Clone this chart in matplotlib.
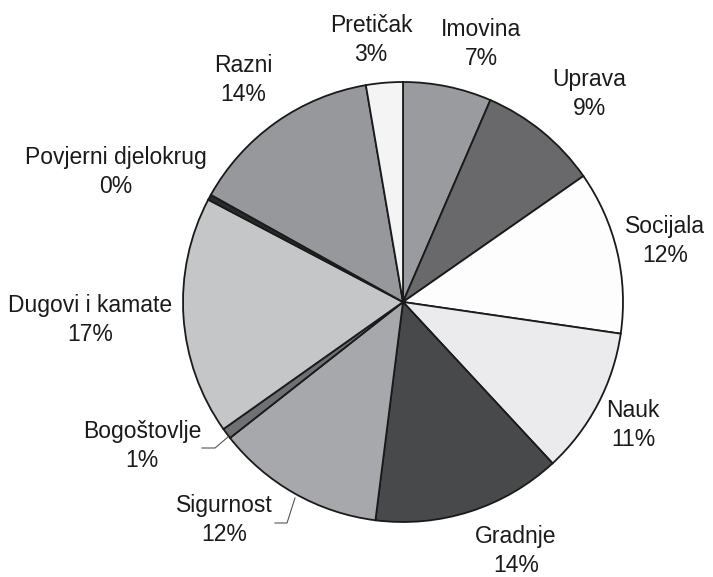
import matplotlib.pyplot as plt

# Data (shares in percent, clockwise from 12 o'clock)
labels = ["Imovina", "Uprava", "Socijala", "Nauk", "Gradnje", "Sigurnost",
          "Bogoštovlje", "Dugovi i kamate", "Povjerni djelokrug", "Razni", "Pretičak"]
shares = [6.5, 8.8, 12.0, 10.8, 13.9, 12.4, 0.8, 17.5, 0.4, 14.2, 2.7]
shown = [7, 9, 12, 11, 14, 12, 1, 17, 0, 14, 3]

colors = ["#9a9b9f", "#69696c", "#fdfdfd", "#ebebed", "#48494b", "#a7a8ab",
          "#6f7073", "#c5c6c8", "#2a2a2a", "#97989c", "#f4f4f4"]

# label block centres in pixels
label_pos = [(481, 44), (589, 94), (665, 241), (633, 425), (516, 551), (224, 520),
             (142, 446), (90, 320), (116, 172), (243, 80), (371, 40)]

W, H = 713, 577
cx, cy, R = 403, 302, 220

plt.rcParams['font.family'] = ['Liberation Sans', 'DejaVu Sans']

fig = plt.figure(figsize=(W / 100, H / 100), dpi=100)
ax = fig.add_axes([0, 0, 1, 1])

ax.pie(shares, colors=colors, startangle=90, counterclock=False, radius=1,
       wedgeprops=dict(edgecolor='#1a1a1a', linewidth=1.3))

ax.set_xlim(-cx / R, (W - cx) / R)
ax.set_ylim((cy - H) / R, cy / R)
ax.set_aspect('equal')
ax.axis('off')


def px(x, y):
    return (x - cx) / R, (cy - y) / R


for name, val, (lx, ly) in zip(labels, shown, label_pos):
    tx, ty = px(lx, ly)
    ax.text(tx, ty, f"{name}\n{val}%", ha='center', va='center', fontsize=16.5,
            linespacing=1.3, color='#1a1a1a')

# leader lines
for pts in ([(228, 437), (215, 448), (202, 448)],
            [(295, 498), (287, 523), (275, 523)]):
    xs, ys = zip(*[px(x, y) for x, y in pts])
    ax.plot(xs, ys, color='#555555', linewidth=0.8)

fig.savefig("out.png", dpi=100)
